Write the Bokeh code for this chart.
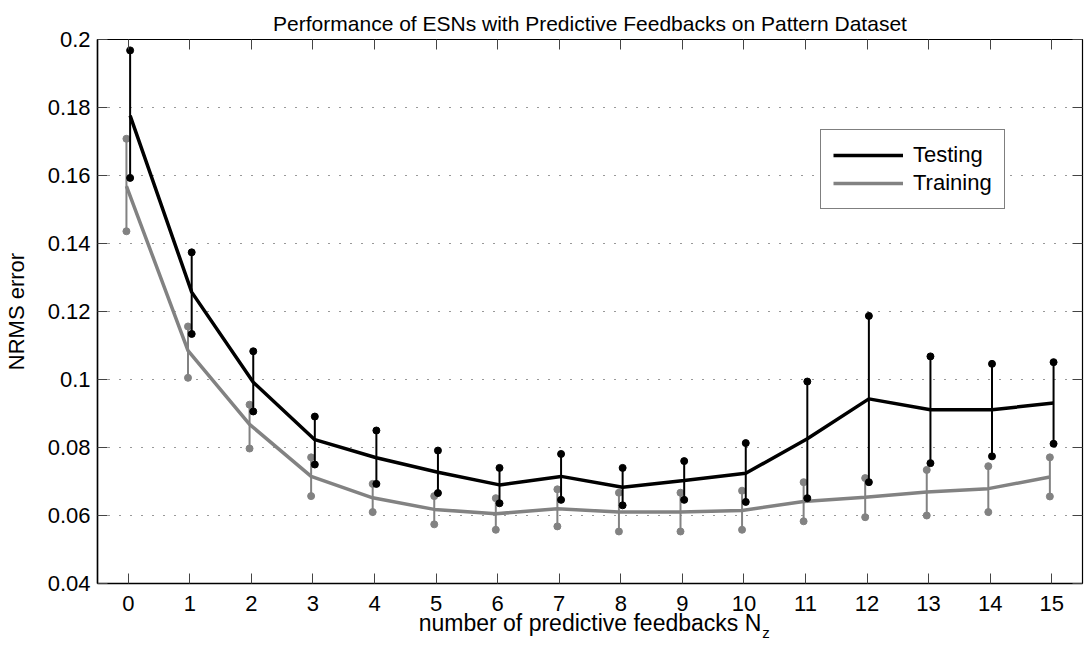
from bokeh.plotting import figure
from bokeh.models import (FixedTicker, LinearAxis, Legend, LegendItem,
                          CustomJSTickFormatter, Range1d, ColumnDataSource)
from bokeh.embed import file_html
from bokeh.resources import INLINE

# ---------------- data ----------------
n_feedbacks = list(range(16))
y_ticks = [0.04, 0.06, 0.08, 0.10, 0.12, 0.14, 0.16, 0.18, 0.20]

test_mean = [0.1776, 0.1257, 0.0992, 0.0823, 0.0770, 0.0727, 0.0690, 0.0715,
             0.0683, 0.0703, 0.0724, 0.0826, 0.0943, 0.0911, 0.0911, 0.0931]
test_hi = [0.1968, 0.1374, 0.1083, 0.0891, 0.0850, 0.0791, 0.0740, 0.0781,
           0.0740, 0.0760, 0.0813, 0.0994, 0.1187, 0.1068, 0.1046, 0.1051]
test_lo = [0.1593, 0.1134, 0.0906, 0.0750, 0.0693, 0.0666, 0.0636, 0.0646,
           0.0630, 0.0646, 0.0640, 0.0651, 0.0698, 0.0754, 0.0774, 0.0811]

train_mean = [0.1569, 0.1085, 0.0868, 0.0715, 0.0652, 0.0618, 0.0605, 0.0620,
              0.0610, 0.0610, 0.0615, 0.0641, 0.0654, 0.0669, 0.0679, 0.0713]
train_hi = [0.1708, 0.1156, 0.0926, 0.0771, 0.0693, 0.0657, 0.0651, 0.0677,
            0.0667, 0.0667, 0.0673, 0.0698, 0.0710, 0.0734, 0.0745, 0.0771]
train_lo = [0.1436, 0.1005, 0.0797, 0.0657, 0.0610, 0.0574, 0.0558, 0.0568,
            0.0553, 0.0553, 0.0558, 0.0583, 0.0595, 0.0600, 0.0610, 0.0656]

TITLE = "Performance of ESNs with Predictive Feedbacks on Pattern Dataset"
X_LABEL = "number of predictive feedbacks N"
X_LABEL_SUB = "z"

# ---------------- style ----------------
FONT = "Liberation Sans"
TEST_COLOR = "#000000"
TRAIN_COLOR = "#828282"
TEST_SHIFT = 0.03
TRAIN_SHIFT = -0.03
SUB_POS = 10.36

p = figure(width=1084, height=644,
           x_range=Range1d(-0.5, 15.5), y_range=Range1d(0.04, 0.2),
           output_backend="svg", toolbar_location=None,
           min_border_left=96, min_border_right=2,
           min_border_top=39, min_border_bottom=61,
           title=TITLE)
p.background_fill_color = "white"
p.border_fill_color = "white"
p.outline_line_color = "black"
p.outline_line_width = 1.2

p.title.align = "center"
p.title.text_font = FONT
p.title.text_font_size = "21px"
p.title.text_font_style = "normal"
p.title.text_color = "black"
p.title.standoff = 10

fmt = CustomJSTickFormatter(code="return tick.toFixed(2).replace(/0$/, '');")
blank = CustomJSTickFormatter(code="return '';")

for ax in p.xaxis:
    ax.ticker = FixedTicker(ticks=n_feedbacks)
for ax in p.yaxis:
    ax.ticker = FixedTicker(ticks=y_ticks)
    ax.formatter = fmt

for ax in list(p.xaxis) + list(p.yaxis):
    ax.major_tick_in = 10
    ax.major_tick_out = 0
    ax.minor_tick_line_color = None
    ax.major_tick_line_color = "#444444"
    ax.axis_line_width = 1.5
    ax.axis_line_color = "black"
    ax.major_label_text_font = FONT
    ax.major_label_text_font_size = "22px"
    ax.major_label_text_color = "black"
    ax.axis_label_text_font = FONT
    ax.axis_label_text_font_size = "23px"
    ax.axis_label_text_font_style = "normal"
    ax.axis_label_text_color = "black"

p.xaxis.major_label_standoff = 12
p.xaxis.axis_label = X_LABEL
p.xaxis.axis_label_standoff = -4
p.yaxis.major_label_standoff = 7
p.yaxis.axis_label = "NRMS error"
p.yaxis.axis_label_text_font_size = "22px"
p.yaxis.axis_label_standoff = 16

right_axis = LinearAxis(ticker=FixedTicker(ticks=y_ticks), formatter=blank,
                        major_label_text_font_size="0px",
                        major_label_standoff=0, major_tick_in=10, major_tick_out=0,
                        minor_tick_line_color=None, major_tick_line_color="#444444",
                        axis_line_color="black")
p.add_layout(right_axis, "right")
top_axis = LinearAxis(ticker=FixedTicker(ticks=n_feedbacks), formatter=blank,
                      major_label_text_font_size="0px",
                      major_label_standoff=0, major_tick_in=10, major_tick_out=0,
                      minor_tick_line_color=None, major_tick_line_color="#444444",
                      axis_line_color="black")
p.add_layout(top_axis, "above")

# subscript "z" of the x-axis label, carried by an invisible outer axis
sub_axis = LinearAxis(ticker=FixedTicker(ticks=[SUB_POS]),
                      formatter=CustomJSTickFormatter(args=dict(s=X_LABEL_SUB),
                                                      code="return s;"),
                      major_label_text_font=FONT, major_label_text_font_size="15px",
                      major_label_text_color="black", major_label_standoff=-15,
                      major_tick_in=0, major_tick_out=0, major_tick_line_color=None,
                      minor_tick_line_color=None, axis_line_color=None)
p.add_layout(sub_axis, "below")

p.xgrid.visible = False
p.ygrid.grid_line_color = "#333333"
p.ygrid.grid_line_dash = "1 10"
p.ygrid.grid_line_width = 1

# ---------------- series ----------------
test_src = ColumnDataSource(dict(x=[v + TEST_SHIFT for v in n_feedbacks],
                                 m=test_mean, lo=test_lo, hi=test_hi))
train_src = ColumnDataSource(dict(x=[v + TRAIN_SHIFT for v in n_feedbacks],
                                  m=train_mean, lo=train_lo, hi=train_hi))

# training error bars
p.segment(x0="x", y0="lo", x1="x", y1="hi", source=train_src,
          line_color=TRAIN_COLOR, line_width=2)
p.scatter("x", "lo", source=train_src, size=7, color=TRAIN_COLOR)
p.scatter("x", "hi", source=train_src, size=7, color=TRAIN_COLOR)
r_train = p.line("x", "m", source=train_src, line_color=TRAIN_COLOR, line_width=3.5)

# testing error bars
p.segment(x0="x", y0="lo", x1="x", y1="hi", source=test_src,
          line_color=TEST_COLOR, line_width=2)
p.scatter("x", "lo", source=test_src, size=7, color=TEST_COLOR)
p.scatter("x", "hi", source=test_src, size=7, color=TEST_COLOR)
r_test = p.line("x", "m", source=test_src, line_color=TEST_COLOR, line_width=3.5)

legend = Legend(items=[LegendItem(label="Testing", renderers=[r_test]),
                       LegendItem(label="Training", renderers=[r_train])],
                location=(723, 374),
                glyph_width=70, glyph_height=22, label_standoff=10,
                padding=12, spacing=2, margin=0,
                label_text_font=FONT, label_text_font_size="22px",
                label_text_color="black",
                border_line_color="black", border_line_width=1,
                background_fill_color="white", background_fill_alpha=1)
p.add_layout(legend)

open("out.html", "w").write(file_html(p, INLINE))
